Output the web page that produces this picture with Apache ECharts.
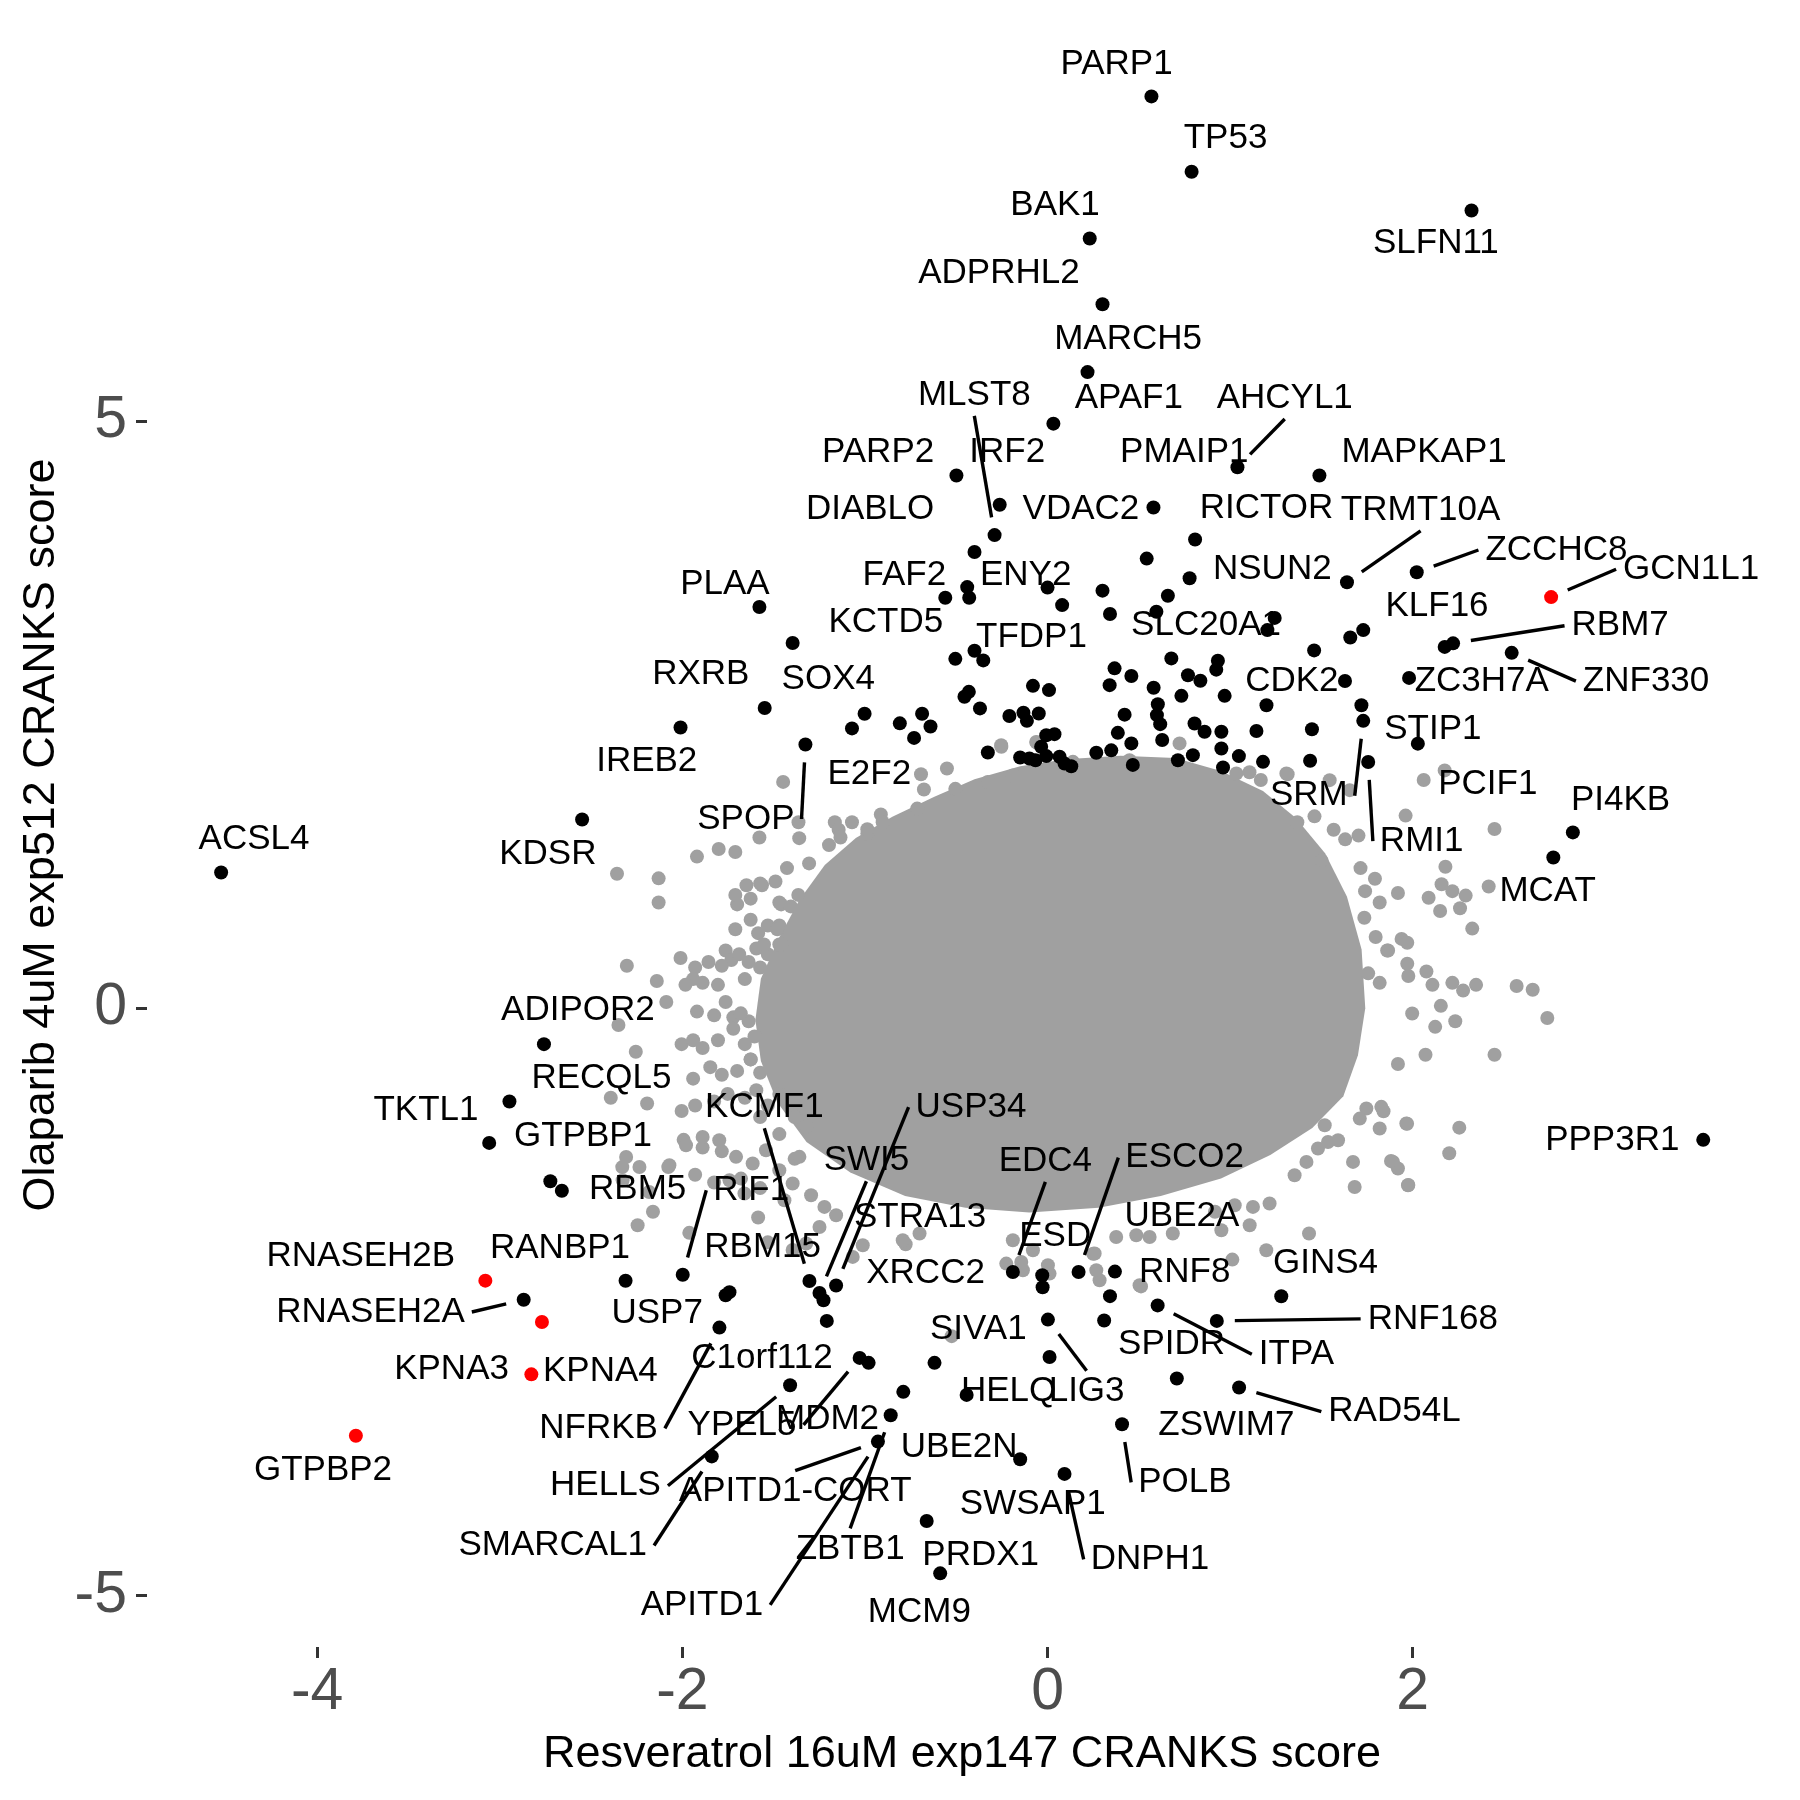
<!DOCTYPE html>
<html>
<head>
<meta charset="utf-8">
<script src="https://cdn.jsdelivr.net/npm/echarts@6/dist/echarts.min.js"></script>
<style>
  html, body { margin: 0; padding: 0; background: #fff; }
  #chart { width: 1800px; height: 1800px; }
</style>
</head>
<body>
<div id="chart"></div>
<script>
const xTicks = [-4, -2, 0, 2];
const yTicks = [-5, 0, 5];
const xTitle = 'Resveratrol 16uM exp147 CRANKS score';
const yTitle = 'Olaparib 4uM exp512 CRANKS score';

// dense middle of the gray cloud, read as an outline
const coreOutline = [
  [-1.60,-0.10],[-1.57,0.25],[-1.47,0.60],[-1.36,0.92],[-1.22,1.22],[-1.05,1.45],[-0.85,1.63],
  [-0.62,1.80],[-0.40,1.95],[-0.15,2.06],[0.10,2.12],[0.40,2.15],[0.70,2.13],[0.95,2.02],
  [1.18,1.85],[1.36,1.62],[1.52,1.32],[1.64,0.95],[1.72,0.50],[1.74,0.00],[1.70,-0.40],
  [1.62,-0.75],[1.45,-1.02],[1.22,-1.25],[0.95,-1.45],[0.62,-1.60],[0.28,-1.70],[-0.10,-1.74],
  [-0.45,-1.70],[-0.78,-1.60],[-1.08,-1.40],[-1.32,-1.14],[-1.48,-0.80],[-1.57,-0.45]
];

// gray genes outside the dense middle
const grayPts = [
  [-1.448,1.927],[-2.358,1.145],[-2.130,1.106],[-2.130,0.900],[-1.920,1.291],[-1.801,1.356],[-1.710,1.330],
  [-1.578,1.454],[-1.364,1.584],[-1.360,1.448],[-1.306,1.233],[-1.165,1.584],[-1.144,1.520],[-1.071,1.584],
  [-0.987,1.487],[-0.913,1.650],[-0.693,1.992],[-0.677,1.862],[-0.551,2.041],[-0.505,1.868],[-0.253,2.227],
  [-0.190,1.982],[-0.327,1.927],[-0.060,2.262],[-1.459,0.884],[-1.700,0.884],[-1.626,0.933],[-1.564,1.047],
  [-1.710,0.672],[-1.626,0.753],[-1.585,0.639],[-1.532,0.704],[-1.469,0.704],[-2.010,0.428],[-1.930,0.346],
  [-1.941,0.248],[-1.857,0.394],[-1.763,0.492],[-1.732,0.411],[-1.784,0.362],[-1.689,0.460],[-1.637,0.394],
  [-1.658,0.248],[-1.595,0.509],[-1.532,0.460],[-1.469,0.542],[-2.140,0.232],[-2.304,0.362],[-1.983,0.199],
  [-1.889,0.216],[-1.805,0.199],[-1.763,0.053],[-1.721,-0.078],[-1.826,-0.061],[-1.920,-0.029],[-2.088,0.053],
  [-2.350,-0.143],[-2.255,-0.371],[-2.004,-0.306],[-1.941,-0.273],[-1.889,-0.339],[-1.805,-0.273],[-1.721,-0.175],
  [-1.658,-0.306],[-1.605,-0.241],[-1.637,-0.111],[-1.941,-0.600],[-1.847,-0.502],[-1.784,-0.567],[-1.700,-0.534],
  [-1.626,-0.436],[-1.574,-0.550],[-2.392,-0.762],[-2.193,-0.812],[-2.004,-0.876],[-1.930,-0.828],[-1.826,-0.795],
  [-1.752,-0.730],[-1.658,-0.762],[-1.993,-1.121],[-1.889,-1.187],[-1.784,-1.219],[-2.182,-1.565],[-2.329,-1.353],
  [-2.077,-1.353],[-1.930,-1.418],[-1.826,-1.484],[-1.679,-1.451],[-1.574,-1.532],[-1.385,-1.283],[-1.469,-1.072],
  [-1.322,-1.007],
  [-1.710,0.965],[-1.649,1.047],[-1.574,1.063],[-1.490,1.079],[-1.427,1.193],[-1.469,0.900],[-1.406,0.867],
  [-1.365,0.965],[-1.480,0.672],[-1.553,0.542],[-1.459,0.542],[-1.574,0.346],[-1.680,-0.044],[-1.626,-0.436],
  [-1.595,-0.698],[-1.532,-0.828],[-1.574,-0.927],[-1.469,-0.730],[-1.385,-0.927],[-1.197,1.389],[-1.134,1.454],
  [-0.987,1.524],[-0.903,1.584],[-0.714,1.700],
  [-1.889,-1.096],[-1.798,-1.124],[-1.706,-1.266],[-1.615,-1.323],[-1.542,-1.210],[-1.469,-1.380],[-1.396,-1.493],
  [-1.359,-1.266],
  [-2.245,-1.848],[-2.161,-1.733],[-1.962,-1.913],[-1.585,-1.782],[-1.532,-1.994],[-1.396,-2.059],[-0.777,-2.010],
  [-0.525,-2.793],[0.250,-2.092],[0.512,-2.369],
  [1.965,-0.982],[1.974,-1.508],[1.673,-1.309],[1.682,-1.522],[1.892,-1.309],[1.919,-1.365],[1.746,-0.854],
  [1.828,-0.840],[1.819,-1.025],[1.710,-0.940],[1.432,-1.919],[1.198,-2.061],[1.012,-2.141],[1.107,-1.848],
  [0.504,-2.359],[0.285,-2.317],[0.267,-2.232],[0.011,-2.260],[0.002,-2.189],[-0.144,-2.161],[-0.226,-2.175],
  [0.258,-2.089],[0.376,-1.948],[0.486,-1.934],[0.559,-1.948],[0.686,-1.919],[0.952,-1.891],[1.025,-1.678],
  [1.125,-1.692],[1.216,-1.663],[1.353,-1.422],[1.418,-1.309],[1.481,-1.195],[1.536,-1.139],[1.591,-1.124],
  [1.518,-0.997],[-0.190,-1.976],[-0.080,-2.061],[0.917,-1.733],
  [2.060,1.943],[2.175,2.025],[1.961,1.640],[2.448,1.526],[2.179,1.204],[2.416,1.037],[2.158,1.056],
  [2.217,0.997],[2.290,0.959],[2.087,0.940],[1.919,0.981],[2.150,0.828],[2.259,0.851],[2.326,0.678],
  [1.939,0.590],[1.970,0.558],[1.865,0.492],[1.970,0.378],[2.075,0.313],[1.976,0.274],[2.347,0.199],
  [2.569,0.189],[2.657,0.157],[2.108,0.199],[2.217,0.216],[2.276,0.150],[2.737,-0.084],[2.448,-0.397],
  [2.070,-0.397],[1.919,-0.475],[1.997,-0.045],[2.154,0.020],[2.233,-0.111],[2.123,-0.159],[2.255,-1.017],
  [2.200,-1.235],[1.976,-1.506],[1.969,-0.984],[1.881,-1.301],[1.840,-0.877],[1.756,0.297],[1.819,0.216],
  [1.797,0.606],[1.860,0.492],[1.735,0.770],[1.819,0.900],[1.739,0.997],[1.793,1.102],[1.714,1.193],
  [1.630,1.438],[1.567,1.520],[1.703,1.470],[1.315,1.992],[1.168,1.943],[1.106,2.009],[1.368,1.584],
  [1.462,1.634],[1.500,1.259],
  [-0.254,2.240],[-0.062,2.268],[0.139,2.098],[0.449,2.112],[0.723,2.255],[1.034,1.999],[1.308,1.999],
  [1.545,1.942],[1.655,1.857],
  [-2.071,-1.337],[-1.980,-1.167],[-1.441,-1.635],[-1.295,-1.593],[-1.222,-1.692],[-1.158,-1.763],[-1.249,-1.863],
  [-1.322,-2.004],[-1.067,-2.118],[-1.012,-2.019],[-0.793,-1.976],[-0.701,-1.919],[-0.135,-2.232],[-1.742,-1.465],
  [-1.660,-1.578],[-2.235,-1.352],[-2.308,-1.267],[-2.327,-1.465]
];

const blackPts = [
  [0.569,7.765],[0.789,7.123],[2.322,6.793],[0.231,6.555],[0.301,5.995],[0.219,5.417],[0.032,4.978],
  [1.040,4.607],[1.489,4.537],[-0.499,4.537],[-0.262,4.288],[0.580,4.264],[-0.290,4.029],[0.808,3.991],
  [-0.400,3.885],[0.543,3.829],[0.778,3.662],[1.640,3.628],[2.022,3.713],[-0.440,3.586],[-0.429,3.495],
  [-0.560,3.495],[0.000,3.582],[0.080,3.433],[0.301,3.556],[0.342,3.357],[0.659,3.512],[0.596,3.376],
  [1.244,3.324],[1.204,3.220],[1.729,3.220],[1.658,3.157],[1.460,3.047],[-1.578,3.417],[-1.396,3.110],
  [-0.505,2.975],[-0.400,3.044],[-0.352,2.962],[0.678,2.979],[0.933,2.959],[0.924,2.883],[0.367,2.894],
  [0.459,2.829],[0.340,2.751],[0.769,2.836],[0.837,2.788],[0.581,2.729],[1.629,2.786],[-0.080,2.745],
  [0.008,2.709],[-0.431,2.694],[-0.455,2.652],[-0.370,2.553],[0.970,2.660],[0.733,2.660],[0.604,2.589],
  [0.599,2.496],[0.617,2.419],[-0.209,2.489],[-0.132,2.516],[-0.113,2.447],[-0.048,2.510],[1.199,2.580],
  [1.719,2.580],[1.729,2.447],[0.422,2.500],[0.805,2.425],[0.860,2.354],[0.952,2.354],[1.144,2.361],
  [1.448,2.375],[0.385,2.345],[0.628,2.284],[-0.007,2.325],[0.038,2.334],[0.459,2.255],[0.952,2.212],
  [-0.327,2.177],[0.267,2.175],[0.349,2.196],[0.796,2.155],[1.048,2.147],[-0.150,2.135],[-0.099,2.127],
  [-0.066,2.112],[-0.007,2.147],[0.066,2.141],[-0.035,2.226],[0.093,2.083],[0.714,2.112],[0.961,2.050],
  [1.180,2.098],[1.438,2.107],[1.756,2.097],[0.467,2.072],[0.130,2.060],
  [2.175,3.077],[2.221,3.107],[2.542,3.026],[1.980,2.813],[2.028,2.253],[2.877,1.497],[2.770,1.284],
  [3.591,-1.121],
  [-2.010,2.390],[-1.549,2.556],[-1.326,2.246],[-1.002,2.507],[-1.071,2.383],[-0.809,2.426],[-0.687,2.507],
  [-0.641,2.399],[-0.731,2.302],
  [-4.526,1.156],[-2.549,1.607],[-2.758,-0.306],[-2.947,-0.795],[-3.058,-1.147],[-2.723,-1.474],[-2.660,-1.555],
  [-2.869,-2.483],[-2.311,-2.321],[-1.998,-2.270],[-1.763,-2.444],[-1.742,-2.418],[-1.797,-2.720],[-1.304,-2.323],
  [-1.249,-2.425],[-1.227,-2.487],[-1.158,-2.362],[-1.209,-2.663],[-1.410,-3.211],[-1.839,-3.817],[-1.029,-2.978],
  [-0.980,-3.020],[-0.619,-3.020],[-0.790,-3.267],[-0.443,-3.293],[-0.859,-3.467],[-0.929,-3.691],[-0.150,-3.841],
  [-0.662,-4.367],[-0.588,-4.813],[0.093,-3.966],[-0.190,-2.246],[-0.029,-2.274],[-0.027,-2.377],[0.170,-2.247],
  [0.369,-2.243],[0.342,-2.452],[0.002,-2.652],[0.011,-2.970],[0.310,-2.660],[0.603,-2.531],[0.927,-2.663],
  [1.280,-2.453],[0.708,-3.153],[1.049,-3.230],[0.408,-3.543]
];

const redPts = [[2.758,3.501],[-3.079,-2.320],[-2.769,-2.672],[-2.827,-3.118],[-3.788,-3.641]];

// labelled genes: name, resveratrol score, olaparib score
const geneScores = [
  ['PARP1',0.569,7.765],['TP53',0.789,7.123],['SLFN11',2.322,6.793],['BAK1',0.231,6.555],
  ['ADPRHL2',0.301,5.995],['MARCH5',0.219,5.417],['MLST8',-0.290,4.029],['APAF1',0.032,4.978],
  ['AHCYL1',1.040,4.607],['PMAIP1',0.580,4.264],['MAPKAP1',1.489,4.537],['PARP2',-0.499,4.537],
  ['IRF2',-0.262,4.288],['DIABLO',-0.499,4.537],['VDAC2',0.580,4.264],['RICTOR',0.808,3.991],
  ['TRMT10A',1.640,3.628],['NSUN2',1.244,3.324],['ZCCHC8',2.022,3.713],['GCN1L1',2.758,3.501],
  ['KLF16',2.175,3.077],['RBM7',2.221,3.107],['ZNF330',2.542,3.026],['ZC3H7A',1.980,2.813],
  ['CDK2',1.629,2.786],['STIP1',2.028,2.253],['SRM',1.729,2.447],['RMI1',1.756,2.097],
  ['PCIF1',2.060,1.943],['PI4KB',2.877,1.497],['MCAT',2.770,1.284],['PPP3R1',3.591,-1.121],
  ['FAF2',-0.560,3.495],['ENY2',0.000,3.582],['PLAA',-1.578,3.417],['KCTD5',-0.560,3.495],
  ['TFDP1',-0.352,2.962],['SLC20A1',1.204,3.220],['SOX4',-1.002,2.507],['RXRB',-1.549,2.556],
  ['IREB2',-2.010,2.390],['E2F2',-1.071,2.383],['SPOP',-1.326,2.246],['KDSR',-2.549,1.607],
  ['ACSL4',-4.526,1.156],['ADIPOR2',-2.758,-0.306],['RECQL5',-2.947,-0.795],['TKTL1',-3.058,-1.147],
  ['GTPBP1',-2.723,-1.474],['RBM5',-2.660,-1.555],['RIF1',-1.998,-2.270],['KCMF1',-1.304,-2.323],
  ['USP34',-1.158,-2.362],['SWI5',-1.249,-2.425],['STRA13',-1.209,-2.663],['XRCC2',-0.980,-3.020],
  ['EDC4',-0.190,-2.246],['ESCO2',0.170,-2.247],['ESD',-0.029,-2.274],['UBE2A',0.369,-2.243],
  ['RNF8',0.342,-2.452],['GINS4',1.280,-2.453],['RNF168',0.927,-2.663],['ITPA',0.603,-2.531],
  ['SPIDR',0.708,-3.153],['RAD54L',1.049,-3.230],['ZSWIM7',1.049,-3.230],['POLB',0.408,-3.543],
  ['LIG3',0.002,-2.652],['HELQ',-0.443,-3.293],['SIVA1',-0.619,-3.020],['UBE2N',-0.150,-3.841],
  ['SWSAP1',0.093,-3.966],['DNPH1',0.093,-3.966],['PRDX1',-0.662,-4.367],['MCM9',-0.588,-4.813],
  ['ZBTB1',-0.859,-3.467],['APITD1-CORT',-0.929,-3.691],['APITD1',-0.929,-3.691],['MDM2',-0.790,-3.267],
  ['YPEL5',-1.029,-2.978],['HELLS',-1.410,-3.211],['SMARCAL1',-1.839,-3.817],['NFRKB',-1.797,-2.720],
  ['C1orf112',-1.410,-3.211],['USP7',-2.311,-2.321],['RANBP1',-2.311,-2.321],['RBM15',-1.249,-2.425],
  ['RNASEH2B',-3.079,-2.320],['RNASEH2A',-2.869,-2.483],['KPNA3',-2.827,-3.118],['KPNA4',-2.827,-3.118],
  ['GTPBP2',-3.788,-3.641]
];

// where each repelled label sits, in data units
const labelSpots = {
  PARP1:[0.378,8.04], TP53:[0.975,7.41], SLFN11:[2.127,6.51], BAK1:[0.041,6.836],
  ADPRHL2:[-0.266,6.259], MARCH5:[0.441,5.692], MLST8:[-0.401,5.223], APAF1:[0.445,5.196],
  AHCYL1:[1.299,5.196], PMAIP1:[0.749,4.733], MAPKAP1:[2.062,4.733], PARP2:[-0.928,4.733],
  IRF2:[-0.221,4.733], DIABLO:[-0.972,4.250], VDAC2:[0.183,4.250], RICTOR:[1.199,4.254],
  TRMT10A:[2.043,4.244], NSUN2:[1.231,3.738], ZCCHC8:[2.787,3.902], GCN1L1:[3.525,3.738],
  KLF16:[2.133,3.423], RBM7:[3.136,3.257], ZNF330:[3.278,2.785], ZC3H7A:[2.378,2.785],
  CDK2:[1.338,2.785], STIP1:[2.110,2.376], SRM:[1.431,1.809], RMI1:[2.049,1.422],
  PCIF1:[2.411,1.907], PI4KB:[3.138,1.773], MCAT:[2.739,0.995], PPP3R1:[3.093,-1.124],
  FAF2:[-0.784,3.690], ENY2:[-0.120,3.690], PLAA:[-1.767,3.608], KCTD5:[-0.886,3.290],
  TFDP1:[-0.088,3.156], SLC20A1:[0.868,3.262], SOX4:[-1.201,2.801], RXRB:[-1.899,2.843],
  IREB2:[-2.195,2.103], E2F2:[-0.976,1.992], SPOP:[-1.652,1.611], KDSR:[-2.737,1.308],
  ACSL4:[-4.346,1.434], ADIPOR2:[-2.572,-0.019], RECQL5:[-2.443,-0.596], TKTL1:[-3.404,-0.873],
  GTPBP1:[-2.544,-1.095], RBM5:[-2.245,-1.544], RIF1:[-1.623,-1.550], KCMF1:[-1.551,-0.843],
  USP34:[-0.419,-0.843], SWI5:[-0.992,-1.295], STRA13:[-0.698,-1.783], XRCC2:[-0.668,-2.255],
  EDC4:[-0.012,-1.300], ESCO2:[0.751,-1.272], ESD:[0.042,-1.939], UBE2A:[0.736,-1.769],
  RNF8:[0.751,-2.251], GINS4:[1.522,-2.175], RNF168:[2.110,-2.646], ITPA:[1.363,-2.946],
  SPIDR:[0.679,-2.862], RAD54L:[1.900,-3.435], ZSWIM7:[0.979,-3.549], POLB:[0.752,-4.038],
  LIG3:[0.214,-3.266], HELQ:[-0.213,-3.266], SIVA1:[-0.379,-2.738], UBE2N:[-0.484,-3.738],
  SWSAP1:[-0.081,-4.227], DNPH1:[0.561,-4.693], PRDX1:[-0.366,-4.660], MCM9:[-0.702,-5.147],
  ZBTB1:[-1.081,-4.608], 'APITD1-CORT':[-1.382,-4.116], APITD1:[-1.893,-5.081], MDM2:[-1.205,-3.500],
  YPEL5:[-1.673,-3.549], HELLS:[-2.421,-4.067], SMARCAL1:[-2.710,-4.576], NFRKB:[-2.459,-3.578],
  C1orf112:[-1.564,-2.979], USP7:[-2.138,-2.597], RANBP1:[-2.670,-2.043], RBM15:[-1.560,-2.033],
  RNASEH2B:[-3.761,-2.115], RNASEH2A:[-3.708,-2.587], KPNA3:[-3.264,-3.077], KPNA4:[-2.449,-3.090],
  GTPBP2:[-3.968,-3.934]
};

// labels joined to their gene by a segment
const leaderGenes = [
  'MLST8','AHCYL1','TRMT10A','ZCCHC8','GCN1L1','RBM7','ZNF330','STIP1','SRM','RMI1','SPOP',
  'RIF1','KCMF1','USP34','SWI5','EDC4','ESCO2','RNF168','ITPA','RAD54L','POLB','LIG3','DNPH1',
  'ZBTB1','APITD1-CORT','APITD1','YPEL5','HELLS','SMARCAL1','NFRKB','RNASEH2A'
];

const FONT = '"Liberation Sans", Arial, Helvetica, sans-serif';
const LABEL_FONT = '35px ' + FONT;
const chart = echarts.init(document.getElementById('chart'));
const ctx = document.createElement('canvas').getContext('2d');
ctx.font = LABEL_FONT;

function renderCore(params, api) {
  return {
    type: 'polygon',
    shape: { points: coreOutline.map(p => api.coord(p)) },
    style: { fill: '#a0a0a0' }
  };
}

// ggrepel style: segment ends on the side of the label box facing the gene
function renderLabel(params, api) {
  const g = geneScores[params.dataIndex];
  const name = g[0];
  const pt = api.coord([g[1], g[2]]);
  const at = api.coord(labelSpots[name]);
  const children = [];
  if (leaderGenes.indexOf(name) >= 0) {
    const hw = ctx.measureText(name).width / 2 + 7;
    const hh = 21;
    let ex, ey;
    if (pt[0] < at[0] - hw) { ex = at[0] - hw; ey = at[1]; }
    else if (pt[0] > at[0] + hw) { ex = at[0] + hw; ey = at[1]; }
    else if (pt[1] < at[1] - hh) { ex = at[0]; ey = at[1] - hh; }
    else { ex = at[0]; ey = at[1] + hh; }
    const dx = ex - pt[0], dy = ey - pt[1];
    const len = Math.hypot(dx, dy);
    const pad = 18;
    if (len > pad + 2) {
      children.push({
        type: 'line',
        shape: { x1: pt[0] + dx / len * pad, y1: pt[1] + dy / len * pad, x2: ex, y2: ey },
        style: { stroke: '#000', lineWidth: 3.4 }
      });
    }
  }
  children.push({
    type: 'text',
    style: {
      text: name, x: at[0], y: at[1],
      align: 'center', verticalAlign: 'middle',
      font: LABEL_FONT, fill: '#000'
    }
  });
  return { type: 'group', children: children };
}

const option = {
  animation: false,
  backgroundColor: '#fff',
  grid: { left: 147, right: 23, top: 23, bottom: 153 },
  xAxis: {
    type: 'value', min: -4.932, max: 3.995,
    axisLine: { show: false, onZero: false },
    splitLine: { show: false },
    axisTick: { show: true, customValues: xTicks, length: 11, lineStyle: { color: '#333', width: 3 } },
    axisLabel: { customValues: xTicks, fontSize: 59, color: '#4d4d4d', margin: 16, fontFamily: FONT },
    name: xTitle, nameLocation: 'middle', nameGap: 85,
    nameTextStyle: { fontSize: 45, color: '#000', fontFamily: FONT }
  },
  yAxis: {
    type: 'value', min: -5.44, max: 8.39,
    axisLine: { show: false, onZero: false },
    splitLine: { show: false },
    axisTick: { show: true, customValues: yTicks, length: 11, lineStyle: { color: '#333', width: 3 } },
    axisLabel: { customValues: yTicks, fontSize: 59, color: '#4d4d4d', margin: 20, fontFamily: FONT },
    name: yTitle, nameLocation: 'middle', nameGap: 82, nameRotate: 90,
    nameTextStyle: { fontSize: 45, color: '#000', fontFamily: FONT }
  },
  series: [
    { type: 'custom', renderItem: renderCore, data: [[0, 0]], encode: { x: 0, y: 1 }, silent: true, z: 1 },
    { type: 'scatter', data: grayPts, symbolSize: 14, itemStyle: { color: '#a0a0a0', opacity: 1 }, silent: true, z: 2 },
    { type: 'custom', renderItem: renderLabel, data: geneScores.map(g => [g[1], g[2]]), encode: { x: 0, y: 1 }, clip: false, silent: true, z: 3 },
    { type: 'scatter', data: blackPts, symbolSize: 14, itemStyle: { color: '#000', opacity: 1 }, silent: true, z: 4 },
    { type: 'scatter', data: redPts, symbolSize: 14, itemStyle: { color: '#ff0000', opacity: 1 }, silent: true, z: 5 }
  ]
};

chart.setOption(option);
</script>
</body>
</html>
